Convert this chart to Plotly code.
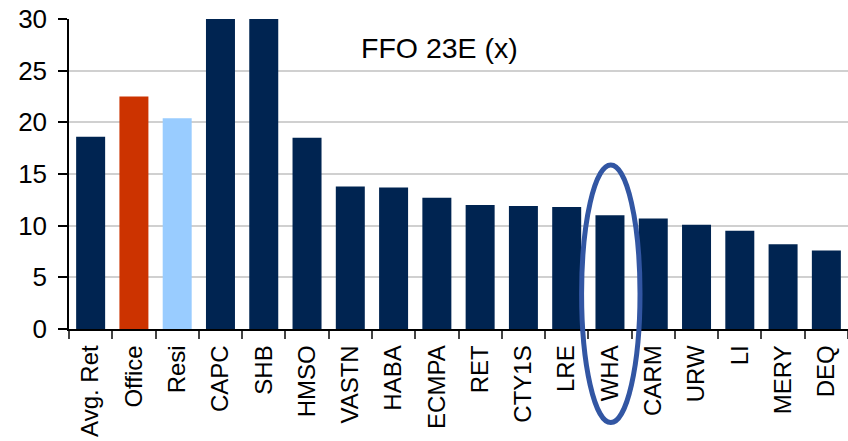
import plotly.graph_objects as go

categories = ["Avg. Ret", "Office", "Resi", "CAPC", "SHB", "HMSO", "VASTN", "HABA",
              "ECMPA", "RET", "CTY1S", "LRE", "WHA", "CARM", "URW", "LI", "MERY", "DEQ"]
ffo_multiple = [18.6, 22.5, 20.4, 36.0, 34.0, 18.5, 13.8, 13.7,
                12.7, 12.0, 11.9, 11.8, 11.0, 10.7, 10.1, 9.5, 8.2, 7.6]

NAVY = "#002451"
OFFICE = "#CC3300"
RESI = "#99CCFF"
bar_colors = [NAVY, OFFICE, RESI] + [NAVY] * (len(categories) - 3)

SANS = "Liberation Sans, Arial, sans-serif"

fig = go.Figure(
    go.Bar(
        x=categories,
        y=ffo_multiple,
        marker=dict(color=bar_colors, line=dict(width=0)),
        hoverinfo="x+y",
    )
)

fig.update_layout(
    width=848,
    height=441,
    margin=dict(l=69, r=0, t=19, b=112),
    paper_bgcolor="white",
    plot_bgcolor="white",
    bargap=0.33,
    showlegend=False,
    font=dict(family=SANS, color="black"),
    annotations=[
        dict(
            text="FFO 23E (x)",
            xref="paper", yref="paper",
            x=0.475, y=0.905,
            xanchor="center", yanchor="middle",
            showarrow=False,
            font=dict(size=28.5, family=SANS, color="black"),
        )
    ],
    shapes=[
        # highlight ring around WHA
        dict(
            type="circle",
            xref="paper", yref="paper",
            x0=0.658, x1=0.733,
            y0=-0.302, y1=0.529,
            line=dict(color="#3256A3", width=5),
            layer="above",
        )
    ],
)

fig.update_xaxes(
    type="category",
    tickangle=-90,
    tickfont=dict(size=24, family=SANS),
    showline=True, linecolor="black", linewidth=1.5,
    ticks="outside", ticklen=8, tickcolor="#444444", tickwidth=1.5,
    tickson="boundaries",
    showgrid=False,
    automargin=False,
    ticklabelstandoff=5,
)

fig.update_yaxes(
    range=[0, 30],
    tickvals=[0, 5, 10, 15, 20, 25, 30],
    tickfont=dict(size=26, family=SANS),
    showline=True, linecolor="black", linewidth=1.5,
    ticks="outside", ticklen=9, tickcolor="black", tickwidth=1.5,
    showgrid=True, gridcolor="#D0D0D0", gridwidth=1.5,
    zeroline=False,
    automargin=False,
    ticklabelstandoff=6,
)

fig.write_html("out.html")
